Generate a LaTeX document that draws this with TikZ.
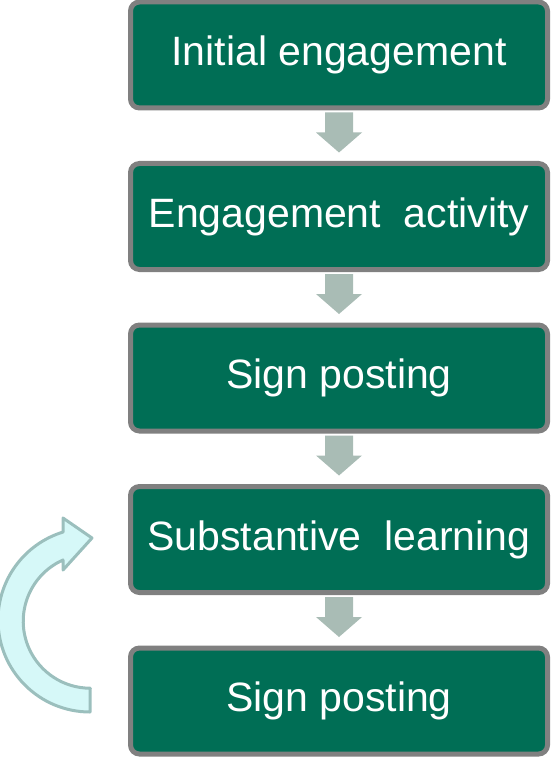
\documentclass[tikz,border=0pt]{standalone}
\usepackage{fontspec}
\setmainfont{Liberation Sans}
\usetikzlibrary{calc}
\definecolor{boxgreen}{RGB}{0,110,85}
\definecolor{boxgray}{RGB}{128,128,128}
\definecolor{arrowgray}{RGB}{169,188,181}
\definecolor{loopfill}{RGB}{214,248,248}
\definecolor{loopline}{RGB}{155,191,189}
\begin{document}
\begin{tikzpicture}[x=1pt,y=-1pt,
  stepbox/.style={draw=boxgray, line width=5pt, fill=boxgreen, rounded corners=9pt,
    minimum width=417pt, minimum height=106pt, inner sep=0pt,
    text=white, font=\fontsize{41}{41}\selectfont},
  blockarrow/.style={fill=arrowgray, draw=none}]
\useasboundingbox (0,0) rectangle (551,759);
\node[stepbox] (b1) at (339,55) {Initial engagement};
\node[stepbox] (b2) at (339,216.5) {Engagement\ \ activity};
\node[stepbox] (b3) at (339,378) {Sign posting};
\node[stepbox] (b4) at (339,539.5) {Substantive\ \ learning};
\node[stepbox] (b5) at (339,701) {Sign posting};
\foreach \a/\b in {b1/b2,b2/b3,b3/b4,b4/b5}{
  \fill[blockarrow] ($(\a.south)+(-14,2)$) -- ($(\a.south)+(14,2)$) -- ($(\a.south)+(14,22)$)
    -- ($(\a.south)+(23,22)$) -- ($(\a.south)+(0,42)$) -- ($(\a.south)+(-23,22)$)
    -- ($(\a.south)+(-14,22)$) -- cycle;
}
\coordinate (lc) at (90,620);
\draw[fill=loopfill, draw=loopline, line width=3pt, line join=round]
  (90,712) arc[start angle=90, end angle=253, radius=92]
  -- (63,518) -- (92,538) -- (63,570) -- (63,560)
  arc[start angle=246, end angle=90, radius=67] -- cycle;
\end{tikzpicture}
\end{document}
